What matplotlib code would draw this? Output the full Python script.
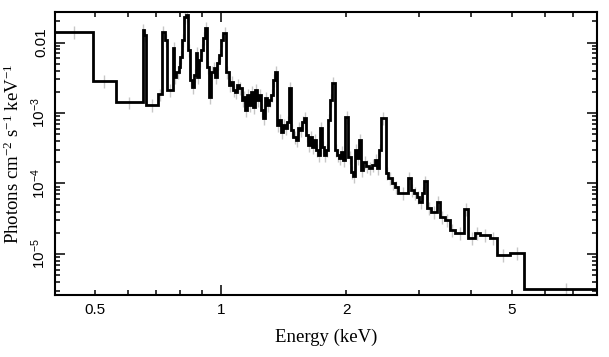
import matplotlib
matplotlib.use("Agg")
import matplotlib.pyplot as plt
import numpy as np

# Bin edges (keV) and folded model flux (photons cm^-2 s^-1 keV^-1)
energy_edges = [
    0.40, 0.493, 0.560, 0.649, 0.656, 0.661, 0.706, 0.721, 0.733, 0.745,
    0.768, 0.774, 0.783, 0.792, 0.800, 0.809, 0.818, 0.827, 0.836, 0.844,
    0.853, 0.862, 0.872, 0.879, 0.889, 0.899, 0.909, 0.916, 0.927, 0.937,
    0.950, 0.961, 0.968, 0.979, 0.993, 1.004, 1.015, 1.032, 1.044, 1.058,
    1.070, 1.082, 1.094, 1.109, 1.122, 1.134, 1.143, 1.156, 1.169, 1.182,
    1.195, 1.208, 1.222, 1.235, 1.249, 1.263, 1.277, 1.291, 1.305, 1.320,
    1.334, 1.349, 1.364, 1.379, 1.395, 1.410, 1.426, 1.442, 1.458, 1.478,
    1.495, 1.515, 1.532, 1.549, 1.566, 1.584, 1.601, 1.619, 1.637, 1.655,
    1.674, 1.693, 1.711, 1.730, 1.750, 1.769, 1.789, 1.808, 1.829, 1.849,
    1.880, 1.901, 1.922, 1.943, 1.965, 1.987, 2.023, 2.059, 2.082, 2.099,
    2.123, 2.146, 2.176, 2.200, 2.231, 2.269, 2.306, 2.345, 2.371, 2.397,
    2.424, 2.488, 2.524, 2.572, 2.619, 2.663, 2.814, 2.857, 2.909, 2.953,
    2.999, 3.046, 3.079, 3.126, 3.190, 3.298, 3.359, 3.453, 3.549, 3.649,
    3.846, 3.931, 4.076, 4.190, 4.428, 4.595, 4.945, 5.343, 8.5,
]

flux = [
    0.01409, 0.002871, 0.001418, 0.01529, 0.01278, 0.001299, 0.001842, 0.01409, 0.01085, 0.002120,
    0.008356, 0.003240, 0.003816, 0.004493, 0.006228, 0.01085, 0.02299, 0.02455, 0.007824, 0.002938,
    0.002337, 0.003459, 0.007096, 0.003240, 0.005647, 0.007824, 0.01158, 0.01606, 0.004493, 0.001687,
    0.003816, 0.004348, 0.003240, 0.005119, 0.006646, 0.01085, 0.01364, 0.003816, 0.002495, 0.002753,
    0.002120, 0.001986, 0.002495, 0.002262, 0.001529, 0.001687, 0.001103, 0.001800, 0.001299, 0.001986,
    0.001217, 0.002120, 0.001529, 0.001800, 0.001103, 0.000849, 0.001632, 0.001299, 0.001529, 0.001800,
    0.002938, 0.003816, 0.000676, 0.000796, 0.000538, 0.000676, 0.000613, 0.000745, 0.002262, 0.000574,
    0.000457, 0.000414, 0.000613, 0.000574, 0.000745, 0.000849, 0.000488, 0.000352, 0.000457, 0.000329,
    0.000414, 0.000299, 0.000254, 0.000613, 0.000329, 0.000254, 0.000299, 0.000796, 0.001529, 0.002664,
    0.000299, 0.000254, 0.000230, 0.000280, 0.000216, 0.000877, 0.000238, 0.000146, 0.000128, 0.000299,
    0.000230, 0.000414, 0.000155, 0.000202, 0.000177, 0.000166, 0.000183, 0.000216, 0.000166, 0.000299,
    0.000849, 0.000141, 0.000120, 0.000102, 8.92e-5, 7.33e-5, 0.000120, 8.09e-5, 7.33e-5, 6.43e-5,
    5.47e-5, 7.33e-5, 0.000108, 4.49e-5, 3.94e-5, 5.47e-5, 3.35e-5, 3.04e-5, 2.19e-5, 1.99e-5,
    4.35e-5, 1.69e-5, 1.99e-5, 1.86e-5, 1.69e-5, 9.68e-6, 1.04e-5, 3.19e-6,
]

rel_err = 0.2

xtick_major = [1]
xtick_minor = [0.4, 0.5, 0.6, 0.7, 0.8, 0.9, 2, 3, 4, 5, 6, 7, 8]
xtick_minor_labels = ['', '0.5', '', '', '', '', '2', '', '', '5', '', '', '']
ytick_major = [1e-5, 1e-4, 1e-3, 1e-2]
ytick_labels = ['$10^{-5}$', '$10^{-4}$', '$10^{-3}$', '0.01']

plt.rcParams['mathtext.default'] = 'regular'
sans = 'Liberation Sans'
serif = 'Liberation Serif'

edges = np.array(energy_edges)
vals = np.array(flux)
centers = np.sqrt(edges[:-1] * edges[1:])

fig = plt.figure(figsize=(6.09, 3.57), dpi=100)
ax = fig.add_axes([0.0903, 0.1737, 0.8897, 0.7927])

ax.errorbar(centers, vals, yerr=vals * rel_err, fmt='none',
            ecolor='0.78', elinewidth=1.0, zorder=1)
ax.stairs(vals, edges, baseline=None, color='black', linewidth=2.0, zorder=2)

ax.set_xscale('log')
ax.set_yscale('log')
ax.set_xlim(0.4, 8)
ax.set_ylim(2.62e-6, 0.0271)

ax.set_xticks(xtick_major)
ax.set_xticklabels(['1'])
ax.set_xticks(xtick_minor, minor=True)
ax.set_xticklabels(xtick_minor_labels, minor=True)
ax.set_yticks(ytick_major)
ax.set_yticklabels(ytick_labels)

ax.tick_params(which='both', direction='in', top=True, right=True, width=1.1)
ax.tick_params(which='major', length=7)
ax.tick_params(which='minor', length=3.5)
ax.tick_params(axis='x', which='both', pad=6)
ax.tick_params(axis='y', which='major', pad=5)
for lab in ax.get_xticklabels(which='both'):
    lab.set_fontfamily(sans)
    lab.set_fontsize(11)
for lab in ax.get_yticklabels():
    lab.set_fontfamily(sans)
    lab.set_fontsize(11)
    lab.set_rotation(90)
    lab.set_verticalalignment('center')

for sp in ax.spines.values():
    sp.set_linewidth(1.5)

ax.set_xlabel('Energy (keV)', fontfamily=serif, fontsize=13.5, labelpad=8)
ax.set_ylabel('Photons cm$^{-2}$ s$^{-1}$ keV$^{-1}$', fontfamily=serif,
              fontsize=13.5, labelpad=5)

fig.savefig('out.png', dpi=100)
